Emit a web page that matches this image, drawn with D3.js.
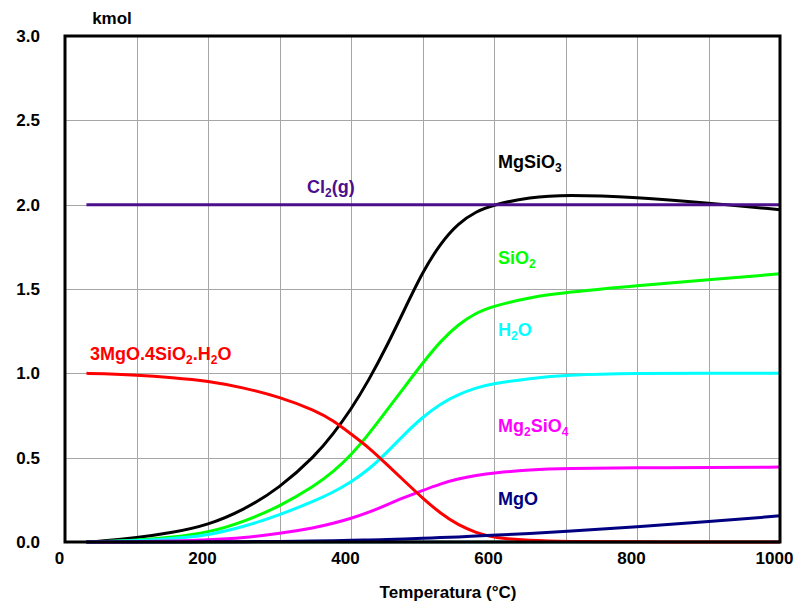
<!DOCTYPE html>
<html>
<head>
<meta charset="utf-8">
<script src="https://cdn.jsdelivr.net/npm/d3@7"></script>
<style>
  body { margin: 0; background: #fff; }
  svg { font-family: Arial, "Liberation Sans", sans-serif; font-weight: bold; }
  .tick-label { font-size: 17px; fill: #000; }
</style>
</head>
<body>
<div id="chart"></div>
<script>
// temperature grid (°C) shared by all series
const TEMPS = [30, 50, 100, 150, 200, 250, 300, 350, 375, 400, 425, 450, 475, 500, 525, 550, 575, 600, 650, 700, 800, 900, 1000];

// kmol at each temperature
const MGSIO3  = [0, 0.005, 0.025, 0.055, 0.10, 0.19, 0.32, 0.51, 0.64, 0.785, 0.96, 1.16, 1.38, 1.60, 1.77, 1.89, 1.96, 2.00, 2.045, 2.06, 2.045, 2.01, 1.97];
const SIO2    = [0, 0.002, 0.01, 0.028, 0.055, 0.12, 0.21, 0.335, 0.415, 0.515, 0.64, 0.78, 0.92, 1.06, 1.19, 1.29, 1.36, 1.40, 1.45, 1.48, 1.52, 1.555, 1.59];
const H2O     = [0, 0.002, 0.008, 0.02, 0.04, 0.09, 0.16, 0.245, 0.295, 0.355, 0.43, 0.53, 0.64, 0.74, 0.82, 0.875, 0.915, 0.94, 0.97, 0.99, 1.0, 1.0, 1.0];
const MG2SIO4 = [0, 0, 0.002, 0.005, 0.012, 0.025, 0.05, 0.085, 0.11, 0.14, 0.175, 0.22, 0.265, 0.305, 0.345, 0.375, 0.395, 0.41, 0.428, 0.436, 0.44, 0.442, 0.444];
const TALC    = [1.0, 0.998, 0.99, 0.975, 0.955, 0.915, 0.86, 0.78, 0.72, 0.64, 0.56, 0.46, 0.36, 0.26, 0.17, 0.10, 0.055, 0.025, 0.008, 0.003, 0.001, 0, 0];
const MGO     = [0, 0, 0, 0, 0.001, 0.002, 0.003, 0.006, 0.008, 0.01, 0.012, 0.015, 0.018, 0.022, 0.026, 0.03, 0.035, 0.04, 0.05, 0.062, 0.09, 0.12, 0.155];
const CL2     = [2, 2, 2, 2, 2, 2, 2, 2, 2, 2, 2, 2, 2, 2, 2, 2, 2, 2, 2, 2, 2, 2, 2];
const OTHER   = [0, 0, 0, 0, 0, 0, 0, 0, 0, 0, 0, 0, 0, 0, 0, 0, 0, 0, 0, 0, 0, 0, 0];

const X_TICKS = [0, 200, 400, 600, 800, 1000];
const Y_TICKS = [0, 0.5, 1.0, 1.5, 2.0, 2.5, 3.0];

// draw order matters: later lines sit on top. label parts: [text, isSubscript]
const SERIES = [
  {values: OTHER,   color: "#1d6b6b"},
  {values: MGSIO3,  color: "#000000", label: [["MgSiO"], ["3", 1]], lx: 498, ly: 168},
  {values: SIO2,    color: "#00ff00", label: [["SiO"], ["2", 1]], lx: 498, ly: 264},
  {values: H2O,     color: "#00ffff", label: [["H"], ["2", 1], ["O"]], lx: 498, ly: 336},
  {values: MG2SIO4, color: "#ff00ff", label: [["Mg"], ["2", 1], ["SiO"], ["4", 1]], lx: 498, ly: 432},
  {values: TALC,    color: "#ff0000", label: [["3MgO.4SiO"], ["2", 1], [".H"], ["2", 1], ["O"]], lx: 90, ly: 360},
  {values: MGO,     color: "#000080", label: [["MgO"]], lx: 498, ly: 505},
  {values: CL2,     color: "#4b0f8c", label: [["Cl"], ["2", 1], ["(g)"]], lx: 307, ly: 193}
];

const W = 795, H = 605;
const MARGIN = {left: 65, right: 15, top: 36, bottom: 63};

const svg = d3.select("#chart").append("svg").attr("width", W).attr("height", H);

const x = d3.scaleLinear().domain([0, 1000]).range([MARGIN.left, W - MARGIN.right]);
const y = d3.scaleLinear().domain([0, 3]).range([H - MARGIN.bottom, MARGIN.top]);

// grid
const grid = svg.append("g").attr("stroke", "#a6a6a6").attr("stroke-width", 1);
grid.selectAll("line.v").data(d3.range(100, 1000, 100)).join("line")
    .attr("x1", d => Math.round(x(d)) + 0.5).attr("x2", d => Math.round(x(d)) + 0.5)
    .attr("y1", y(3)).attr("y2", y(0));
grid.selectAll("line.h").data(Y_TICKS.slice(1, -1)).join("line")
    .attr("y1", d => Math.round(y(d)) + 0.5).attr("y2", d => Math.round(y(d)) + 0.5)
    .attr("x1", x(0)).attr("x2", x(1000));

// axes (labels only, no tick marks)
const xAxis = svg.append("g").attr("transform", `translate(0,${y(0)})`)
    .call(d3.axisBottom(x).tickValues(X_TICKS).tickFormat(d3.format("d")).tickSize(0).tickPadding(10));
const yAxis = svg.append("g").attr("transform", `translate(${x(0)},0)`)
    .call(d3.axisLeft(y).tickValues(Y_TICKS).tickFormat(d3.format(".1f")).tickSize(0).tickPadding(25));
[xAxis, yAxis].forEach(a => {
  a.select(".domain").remove();
  a.selectAll("text").attr("class", "tick-label").attr("font-family", null).attr("font-size", null);
});
xAxis.selectAll("text").attr("dx", -6);

// lines
const line = d3.line().x((d, i) => x(TEMPS[i])).y(d => y(d)).curve(d3.curveBasis);
SERIES.forEach(s => {
  svg.append("path").datum(s.values).attr("d", line)
      .attr("fill", "none").attr("stroke", s.color).attr("stroke-width", 3);
});

// frame
svg.append("rect").attr("x", x(0)).attr("y", y(3))
    .attr("width", x(1000) - x(0)).attr("height", y(0) - y(3))
    .attr("fill", "none").attr("stroke", "#000").attr("stroke-width", 3);

// series labels with subscripts
SERIES.filter(s => s.label).forEach(s => {
  const t = svg.append("text").attr("x", s.lx).attr("y", s.ly)
      .attr("fill", s.color).attr("font-size", 18);
  let down = false;
  s.label.forEach(([txt, sub]) => {
    const span = t.append("tspan").text(txt);
    if (sub) { span.attr("font-size", 12).attr("dy", down ? 0 : 4); down = true; }
    else { span.attr("dy", down ? -4 : 0); down = false; }
  });
});

// axis titles
svg.append("text").attr("x", 112).attr("y", 24).attr("text-anchor", "middle")
    .attr("font-size", 17).text("kmol");
svg.append("text").attr("x", 448).attr("y", 598).attr("text-anchor", "middle")
    .attr("font-size", 17).text("Temperatura (°C)");
</script>
</body>
</html>
